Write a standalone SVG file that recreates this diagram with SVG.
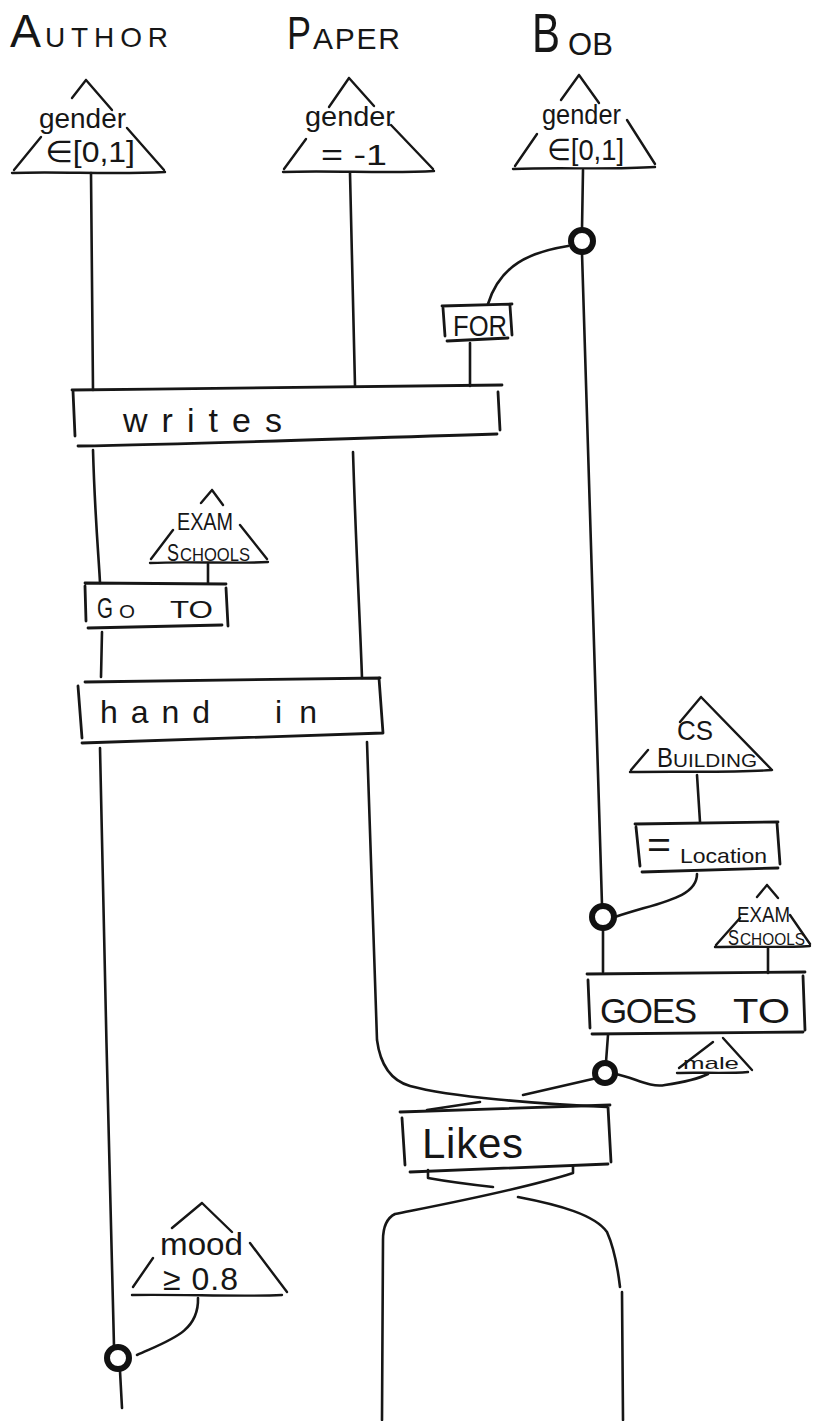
<svg xmlns="http://www.w3.org/2000/svg" width="814" height="1421" viewBox="0 0 814 1421">
<style>
.ln{fill:none;stroke:#161616;stroke-width:2.6;stroke-linecap:round;stroke-linejoin:round}
.bx{fill:none;stroke:#161616;stroke-width:2.8;stroke-linecap:round;stroke-linejoin:round}
.tr{fill:none;stroke:#161616;stroke-width:2.4;stroke-linecap:round;stroke-linejoin:round}
.ring{fill:#fff;stroke:#111;stroke-width:6}
.t{font-family:"Liberation Sans","DejaVu Sans",sans-serif;fill:#161616}
</style>
<rect width="814" height="1421" fill="#fff"/>

<g id="connectors">
  <!-- Author lifeline -->
  <path class="ln" d="M91,173 C92,250 93,320 93,390"/>
  <path class="ln" d="M93,450 C95,520 99,560 100,583"/>
  <path class="ln" d="M102,632 L101,677"/>
  <path class="ln" d="M100,748 C103,900 110,1200 114,1346"/>
  <path class="ln" d="M120,1371 L122,1408"/>
  <path class="ln" d="M198,1298 C199,1332 170,1340 137,1355"/>
  <!-- Paper lifeline -->
  <path class="ln" d="M350,173 C352,250 354,320 355,386"/>
  <path class="ln" d="M353,452 C356,550 360,620 362,678"/>
  <path class="ln" d="M367,742 C370,850 374,950 377,1040 Q382,1078 410,1086 C450,1097 540,1104 607,1107"/>
  <!-- Bob lifeline -->
  <path class="ln" d="M583,170 L582,229"/>
  <path class="ln" d="M582,253 C588,500 596,700 602,905"/>
  <path class="ln" d="M603,929 L603,972"/>
  <path class="ln" d="M608,1035 L606,1062"/>
  <path class="ln" d="M568,246 C530,252 500,265 488,304"/>
  <path class="ln" d="M470,343 L470,386"/>
  <path class="ln" d="M208,564 L208,583"/>
  <path class="ln" d="M697,775 L700,822"/>
  <path class="ln" d="M697,874 C697,898 660,902 615,917"/>
  <path class="ln" d="M768,948 L768,973"/>
  <path class="ln" d="M616,1074 C635,1078 650,1088 665,1085 C685,1082 700,1078 708,1074"/>
  <path class="ln" d="M597,1078 L523,1095"/>
  <path class="ln" d="M480,1102 L427,1110"/>
  <!-- below Likes -->
  <path class="ln" d="M573,1166 L573,1173 C520,1190 440,1205 395,1214 Q383,1220 383,1240 L382,1420"/>
  <path class="ln" d="M428,1170 L428,1178 C450,1182 475,1185 493,1187"/>
  <path class="ln" d="M518,1197 C560,1205 595,1215 607,1232 C615,1250 618,1270 620,1287"/>
  <path class="ln" d="M622,1292 L623,1420"/>
</g>

<g id="author-header"><text class="t" y="47"><tspan x="10" font-size="47" textLength="31" lengthAdjust="spacingAndGlyphs">A</tspan><tspan x="45" font-size="28" textLength="123" lengthAdjust="spacing">UTHOR</tspan></text></g>
<g id="paper-header"><text class="t" y="49"><tspan x="287" font-size="46" textLength="24" lengthAdjust="spacingAndGlyphs">P</tspan><tspan x="313" font-size="30" textLength="87" lengthAdjust="spacing">APER</tspan></text></g>
<g id="bob-header"><text class="t"><tspan x="532" y="52" font-size="56" textLength="28" lengthAdjust="spacingAndGlyphs">B</tspan><tspan x="568" y="55" font-size="31" textLength="45" lengthAdjust="spacing">OB</tspan></text></g>

<g id="author-gender">
  <path class="tr" d="M86,80 L72,98 M86,80 L112,110 M41,137 L14,170 M127,128 L164,170 M12,173 C60,171 110,175 165,172"/>
  <text class="t" x="39" y="128" font-size="27" textLength="87" lengthAdjust="spacingAndGlyphs">gender</text>
  <text class="t" x="45" y="162" font-size="30" textLength="90" lengthAdjust="spacingAndGlyphs">∈[0,1]</text>
</g>
<g id="paper-gender">
  <path class="tr" d="M349,78 L329,107 M349,78 L374,106 M306,139 L284,169 M391,125 L433,169 M283,172 C330,170 390,174 434,171"/>
  <text class="t" x="305" y="126" font-size="27" textLength="90" lengthAdjust="spacingAndGlyphs">gender</text>
  <text class="t" x="321" y="165" font-size="30" textLength="66" lengthAdjust="spacingAndGlyphs">= -1</text>
</g>
<g id="bob-gender">
  <path class="tr" d="M579,75 L561,100 M579,75 L599,103 M537,134 L515,166 M627,120 L655,164 M513,169 C560,167 610,170 655,167"/>
  <text class="t" x="542" y="124" font-size="27" textLength="79" lengthAdjust="spacingAndGlyphs">gender</text>
  <text class="t" x="547" y="160" font-size="30" textLength="77" lengthAdjust="spacingAndGlyphs">∈[0,1]</text>
</g>
<g id="bob-junction-1"><circle class="ring" cx="582" cy="241" r="11"/></g>
<g id="for">
  <path class="bx" d="M442,306 L512,304 M443,308 L445,336 M510,306 L512,335 M447,341 L508,338"/>
  <text class="t" x="453" y="336" font-size="29" textLength="54" lengthAdjust="spacingAndGlyphs">FOR</text>
</g>
<g id="writes">
  <path class="bx" d="M72,390 C200,389 300,386 502,385 M73,391 L75,436 M498,392 L500,430 M78,446 C200,444 300,440 497,434"/>
  <text class="t" x="123" y="432" font-size="34" textLength="159" lengthAdjust="spacing">writes</text>
</g>
<g id="exam-schools-1">
  <path class="tr" d="M212,490 L201,503 M212,490 L223,505 M173,530 L151,559 M240,525 L267,559 M150,563 C190,561 230,564 268,562"/>
  <text class="t" x="177" y="530" font-size="24" textLength="56" lengthAdjust="spacingAndGlyphs">EXAM</text>
  <text class="t" y="561"><tspan x="167" font-size="23" textLength="12" lengthAdjust="spacingAndGlyphs">S</tspan><tspan x="180" font-size="18" textLength="70" lengthAdjust="spacingAndGlyphs">CHOOLS</tspan></text>
</g>
<g id="go-to">
  <path class="bx" d="M85,583 L226,584 M85,586 L86,621 M226,588 L228,626 M88,628 L222,625"/>
  <text class="t" y="618"><tspan x="97" font-size="30" textLength="16" lengthAdjust="spacingAndGlyphs">G</tspan><tspan x="119" font-size="19" textLength="16" lengthAdjust="spacingAndGlyphs">O</tspan><tspan x="170" font-size="23" textLength="43" lengthAdjust="spacingAndGlyphs">TO</tspan></text>
</g>
<g id="hand-in">
  <path class="bx" d="M85,682 C200,680 300,679 380,678 M78,686 L82,738 M379,678 L383,733 M82,743 C200,740 300,736 383,733"/>
  <text class="t" y="723" font-size="32"><tspan x="100" textLength="110" lengthAdjust="spacing">hand</tspan><tspan x="275" textLength="42" lengthAdjust="spacing">in</tspan></text>
</g>
<g id="cs-building">
  <path class="tr" d="M701,697 L680,722 M701,697 L772,770 M648,750 L631,770 M630,772 C680,771 730,773 772,770"/>
  <text class="t" x="677" y="740" font-size="28" textLength="36" lengthAdjust="spacingAndGlyphs">CS</text>
  <text class="t" y="767"><tspan x="657" font-size="28" textLength="16" lengthAdjust="spacingAndGlyphs">B</tspan><tspan x="673" font-size="19" textLength="84" lengthAdjust="spacingAndGlyphs">UILDING</tspan></text>
</g>
<g id="location">
  <path class="bx" d="M635,824 L778,822 M636,827 L640,866 M777,823 L780,864 M642,872 L778,868"/>
  <text class="t" x="647" y="857" font-size="36" textLength="24" lengthAdjust="spacingAndGlyphs">=</text>
  <text class="t" x="680" y="863" font-size="21" textLength="87" lengthAdjust="spacingAndGlyphs">Location</text>
</g>
<g id="bob-junction-2"><circle class="ring" cx="603" cy="917" r="11"/></g>
<g id="exam-schools-2">
  <path class="tr" d="M767,885 L757,897 M767,885 L778,898 M740,918 L716,945 M790,915 L810,944 M715,947 C750,946 780,948 810,946"/>
  <text class="t" x="737" y="922" font-size="22" textLength="53" lengthAdjust="spacingAndGlyphs">EXAM</text>
  <text class="t" y="945"><tspan x="728" font-size="22" textLength="11" lengthAdjust="spacingAndGlyphs">S</tspan><tspan x="740" font-size="17" textLength="65" lengthAdjust="spacingAndGlyphs">CHOOLS</tspan></text>
</g>
<g id="goes-to">
  <path class="bx" d="M587,974 L805,972 M588,980 L590,1028 M803,976 L805,1030 M592,1034 L803,1032"/>
  <text class="t" y="1023" font-size="35"><tspan x="600" textLength="97" lengthAdjust="spacing">GOES</tspan><tspan x="733" textLength="57" lengthAdjust="spacingAndGlyphs">TO</tspan></text>
</g>
<g id="male">
  <path class="tr" d="M679,1068 L713,1042 M723,1038 L752,1070 M677,1073 C700,1072 725,1074 748,1072"/>
  <text class="t" x="683" y="1069" font-size="17" textLength="56" lengthAdjust="spacingAndGlyphs">male</text>
</g>
<g id="bob-junction-3"><circle class="ring" cx="605" cy="1073" r="10"/></g>
<g id="likes">
  <path class="bx" d="M400,1112 L610,1105 M402,1118 L405,1165 M608,1107 L611,1162 M410,1172 L608,1164"/>
  <text class="t" x="422" y="1158" font-size="42" textLength="101" lengthAdjust="spacing">Likes</text>
</g>
<g id="mood">
  <path class="tr" d="M202,1203 L172,1228 M202,1203 L232,1232 M153,1258 L133,1287 M250,1243 L287,1292 M132,1295 C180,1294 240,1297 282,1295"/>
  <text class="t" x="160" y="1255" font-size="32" textLength="83" lengthAdjust="spacingAndGlyphs">mood</text>
  <text class="t" x="163" y="1290" font-size="32" textLength="75" lengthAdjust="spacing">≥ 0.8</text>
</g>
<g id="author-junction"><circle class="ring" cx="118" cy="1358" r="11"/></g>
</svg>
